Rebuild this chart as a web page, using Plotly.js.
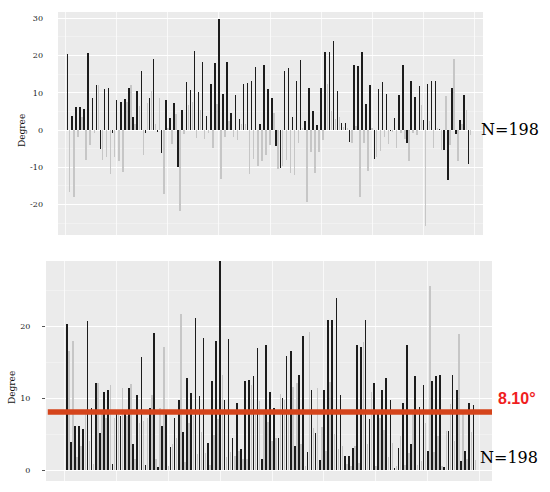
<!DOCTYPE html>
<html>
<head>
<meta charset="utf-8">
<script src="https://cdn.plot.ly/plotly-3.0.1.min.js"></script>
<style>html,body{margin:0;padding:0;background:#fff;}#chart{width:550px;height:492px;}</style>
</head>
<body>
<div id="chart"></div>
<script>
// Signed deviations (degrees), first group (black bars)
const blackValues = [
  20.3, 3.9, 6.1, 6.2, 5.7, 20.8, 8.7, 12.1, -5.2, 10.9,
  11.2, -0.9, 8.0, 7.6, 8.4, 11.4, 3.6, 10.5, 15.8, -0.7,
  8.7, 19.1, -0.4, -6.2, 8.0, 3.2, 7.3, -9.8, 5.3, 12.8,
  10.7, 21.2, 10.3, 18.4, 3.8, 12.4, 18.0, 29.7, 9.7, 18.3,
  4.5, 9.4, 3.0, 12.4, 12.5, 13.1, 17.0, 1.5, 17.5, 10.9,
  8.7, -4.4, -10.1, 15.9, 16.6, 3.4, 13.3, 18.7, 2.5, 11.2,
  5.1, 1.4, 11.2, 20.9, 20.9, 24.0, 10.4, 1.9, 1.9, -3.1,
  17.4, 17.1, 20.9, 7.1, 12.1, -7.9, 11.1, 12.9, 9.8, -0.3,
  3.1, 9.4, 17.5, -3.6, 13.1, 8.8, 11.8, 2.7, 12.4, 13.1,
  13.2, 0.4, -5.4, -13.3, 11.2, -1.2, 2.6, 9.3, -9.0
];
// Signed deviations (degrees), second group (grey bars)
const greyValues = [
  -16.6, -18.0, -1.8, 3.4, -8.1, -4.1, -0.9, 12.1, -8.0, -7.3,
  -11.9, -7.2, -8.3, -11.4, 7.5, 12.0, 1.5, 6.5, -6.8, 7.3,
  10.4, 1.6, 8.7, -17.2, 0.5, -3.7, 4.4, -21.8, -1.1, 6.6,
  7.5, -2.2, 5.3, -2.4, -0.7, -4.9, 7.1, -13.2, -1.8, 2.5,
  -2.0, -2.6, 1.5, 1.5, -11.8, -7.7, -9.6, -8.2, -6.7, -4.0,
  4.5, -10.6, -9.7, -8.0, -11.6, -12.2, -3.6, 0.5, -19.3, -5.8,
  -11.5, -6.0, -2.7, 12.3, 5.0, 3.0, 3.4, 0.8, 0.5, -3.4,
  1.0, -17.9, -3.6, -10.9, 0.5, -7.3, -5.6, -1.8, -3.8, -0.5,
  -4.7, -0.7, -2.4, -8.3, -0.7, -1.3, 6.6, -25.7, 2.5, -4.7,
  0.5, -5.5, 9.2, -4.0, 19.0, -8.3, 1.5, 5.3, -1.4
];
const meanAbs = 8.10;
const nLabel = "N=198";
const meanLabel = "8.10°";
const yTitle = "Degree";
const topTicks = [-20, -10, 0, 10, 20, 30];
const bottomTicks = [0, 10, 20];

const blackX = blackValues.map((v, i) => 2 * i + 1);
const greyX = greyValues.map((v, i) => 2 * i + 2);

const BLACK = '#1c1c1c', GREY = '#c6c6c6';
const W = 550, H = 492;
const px = v => v / W, py = v => 1 - v / H;

const traces = [
  {type:'bar', x: greyX, y: greyValues, xaxis:'x', yaxis:'y', marker:{color:GREY, line:{width:0}}, width:0.72, hoverinfo:'skip'},
  {type:'bar', x: blackX, y: blackValues, xaxis:'x', yaxis:'y', marker:{color:BLACK, line:{width:0}}, width:0.72, hoverinfo:'skip'},
  {type:'bar', x: greyX, y: greyValues.map(Math.abs), xaxis:'x2', yaxis:'y2', marker:{color:GREY, line:{width:0}}, width:0.72, hoverinfo:'skip'},
  {type:'bar', x: blackX, y: blackValues.map(Math.abs), xaxis:'x2', yaxis:'y2', marker:{color:BLACK, line:{width:0}}, width:0.78, hoverinfo:'skip'}
];

const tickFont = {family:'DejaVu Serif', size:8, color:'#222'};
const grid = {showgrid:true, gridcolor:'#fbfbfb', gridwidth:0.9, zeroline:false, showline:false};

const layout = {
  width: W, height: H,
  margin:{l:0, r:0, t:0, b:0},
  paper_bgcolor:'#ffffff', plot_bgcolor:'#ebebeb',
  showlegend:false, barmode:'overlay', bargap:0,
  xaxis: Object.assign({}, grid, {domain:[px(58), px(483)], range:[-3.75, 204.2], anchor:'y',
    tick0:0, dtick:25, showticklabels:false, ticks:''}),
  yaxis: Object.assign({}, grid, {domain:[py(235), py(12)], range:[-28.2, 31.7], anchor:'x',
    tickmode:'array', tickvals: topTicks, ticktext: topTicks.map(String), tickfont: tickFont,
    ticks:'', ticklabelstandoff:14, gridcolor:'#ffffff', gridwidth:1,
    minor:{tickmode:'array', tickvals:[-25,-15,-5,5,15,25], showgrid:true, gridcolor:'#f5f5f5', gridwidth:0.6}}),
  xaxis2: Object.assign({}, grid, {domain:[px(46), px(492)], range:[-8.98, 206], anchor:'y2',
    tick0:0, dtick:25, showticklabels:false, ticks:''}),
  yaxis2: Object.assign({}, grid, {domain:[py(481), py(261)], range:[-1.53, 29.15], anchor:'x2',
    tickmode:'array', tickvals: bottomTicks, ticktext: bottomTicks.map(String), tickfont: tickFont,
    ticks:'outside', ticklen:3, tickcolor:'#555', ticklabelstandoff:10, gridcolor:'#ffffff', gridwidth:1,
    minor:{tickmode:'array', tickvals:[5,15,25], showgrid:true, gridcolor:'#f5f5f5', gridwidth:0.6}}),
  shapes:[
    {type:'line', xref:'x2 domain', yref:'y2', x0:0.004, x1:1, y0:meanAbs, y1:meanAbs,
     line:{color:'#d5441b', width:5.5}, layer:'above'}
  ],
  annotations:[
    {text:yTitle, xref:'paper', yref:'paper', x:px(22), y:py(131), textangle:-90, showarrow:false,
     xanchor:'center', yanchor:'middle', font:{family:'DejaVu Serif', size:9, color:'#111'}},
    {text:yTitle, xref:'paper', yref:'paper', x:px(12), y:py(388), textangle:-90, showarrow:false,
     xanchor:'center', yanchor:'middle', font:{family:'DejaVu Serif', size:9, color:'#111'}},
    {text:nLabel, xref:'paper', yref:'paper', x:px(479), y:py(130), showarrow:false,
     xanchor:'left', yanchor:'middle', font:{family:'DejaVu Serif', size:16, color:'#000'}},
    {text:nLabel, xref:'paper', yref:'paper', x:px(478), y:py(457), showarrow:false,
     xanchor:'left', yanchor:'middle', font:{family:'DejaVu Serif', size:16, color:'#000'}},
    {text:'<b>' + meanLabel + '</b>', xref:'paper', yref:'paper', x:px(496), y:py(398), showarrow:false,
     xanchor:'left', yanchor:'middle', font:{family:'Liberation Sans', size:16, color:'#f01e1e'}}
  ]
};

Plotly.newPlot('chart', traces, layout, {staticPlot:true, displayModeBar:false});
</script>
</body>
</html>
